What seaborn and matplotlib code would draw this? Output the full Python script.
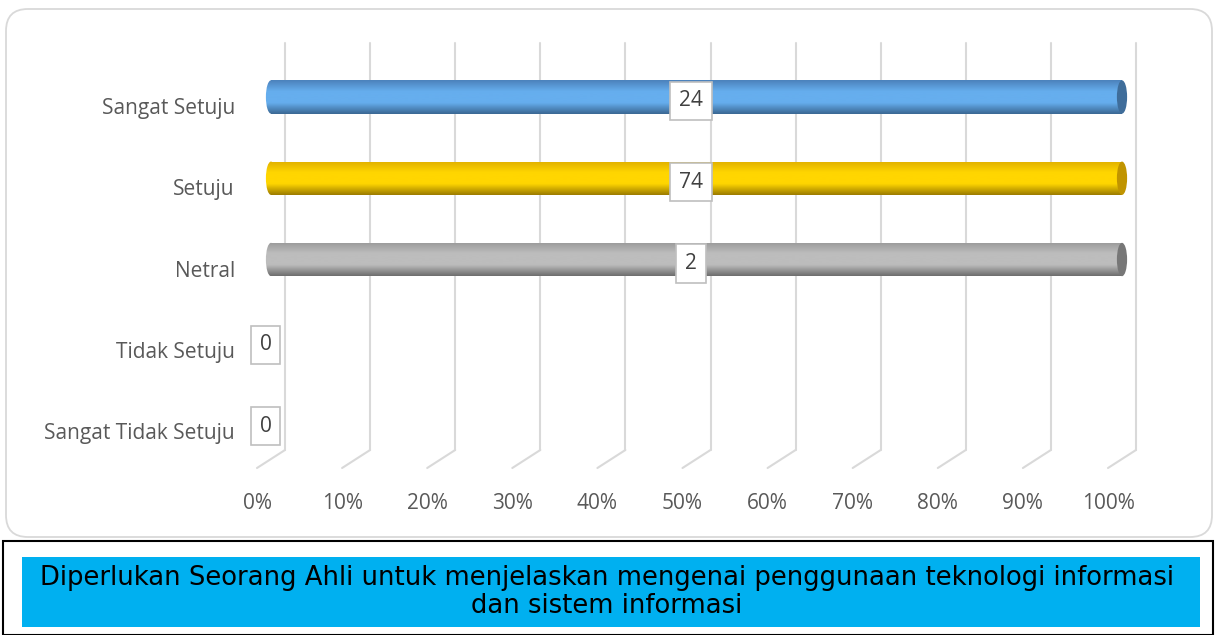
import numpy as np
import seaborn as sns
import matplotlib.pyplot as plt
import matplotlib.transforms as mtransforms
from matplotlib.patches import Ellipse, FancyBboxPatch, Rectangle
from matplotlib.colors import LinearSegmentedColormap

# data (100% stacked, one series per category)
categories = ['Sangat Setuju', 'Setuju', 'Netral', 'Tidak Setuju', 'Sangat Tidak Setuju']
counts = [24, 74, 2, 0, 0]
shares = [100 if c > 0 else 0 for c in counts]
tick_values = list(range(0, 101, 10))
tick_labels = [f'{t}%' for t in tick_values]
caption = ('Diperlukan Seorang Ahli untuk menjelaskan mengenai penggunaan teknologi informasi\n'
           'dan sistem informasi')

# (top edge, middle, bottom edge, end cap) shades for the cylinders
shades = {
    'Sangat Setuju': ('#4C82BC', '#66AEEE', '#3B6894', '#3F6D9A'),
    'Setuju': ('#E0B000', '#FFD600', '#9C7C00', '#C09400'),
    'Netral': ('#9A9A9A', '#BDBDBD', '#6E6E6E', '#777777'),
    'Tidak Setuju': ('#9A9A9A', '#BDBDBD', '#6E6E6E', '#777777'),
    'Sangat Tidak Setuju': ('#9A9A9A', '#BDBDBD', '#6E6E6E', '#777777'),
}

sns.set_style('white')
plt.rcParams['font.family'] = ['Open Sans', 'DejaVu Sans']

fig = plt.figure(figsize=(12.16, 6.35), dpi=100)
W, H = 1216, 635

# outer rounded chart frame
frame = FancyBboxPatch((6 / W, 98 / H), 1206 / W, 528 / H,
                       boxstyle='round,pad=0,rounding_size=0.018',
                       transform=fig.transFigure, fc='white', ec='#D9D9D9', lw=1.3,
                       mutation_aspect=W / H, zorder=-5)
fig.patches.append(frame)

ax = fig.add_axes([257 / W, (H - 468) / H, (1108 - 257) / W, (468 - 43) / H])
ax.set_facecolor('none')
ax.set_zorder(2)

sns.barplot(x=shares, y=categories, hue=categories, palette=[shades[c][1] for c in categories],
            orient='h', width=0.41, legend=False, ax=ax, saturation=1)

ax.set_xlim(0, 100)
ax.set_ylim(4.455, -0.775)
fig.canvas.draw()

# 3D offsets: back wall, bar depth, label position
back = ax.transData + mtransforms.ScaledTranslation(0.28, 0.18, fig.dpi_scale_trans)
mid = ax.transData + mtransforms.ScaledTranslation(0.14, 0.09, fig.dpi_scale_trans)
lab = ax.transData + mtransforms.ScaledTranslation(0.085, 0.05, fig.dpi_scale_trans)

for t in tick_values:
    ax.plot([t, t], [4.455, -0.775 + 18 / 81.25], transform=back, color='#D9D9D9',
            lw=1.5, clip_on=False, zorder=0)
    x_back, y_back = back.transform((t, 4.455))
    x_front, y_front = ax.transData.transform((t, 4.455))
    ax.plot([x_back, x_front], [y_back, y_front], transform=None, color='#D9D9D9',
            lw=1.5, clip_on=False, zorder=0)

cap_w = 1.2
grad = np.linspace(0, 1, 64).reshape(-1, 1)
for cat, patch, val in zip(categories, ax.patches, counts):
    top, middle, bottom, cap = shades[cat]
    x0, y0 = patch.get_x(), patch.get_y()
    w, h = patch.get_width(), patch.get_height()
    yc = y0 + h / 2
    patch.set_transform(mid)
    patch.set_edgecolor('none')
    patch.set_zorder(2)
    patch.set_clip_on(False)
    if w > 0:
        cmap = LinearSegmentedColormap.from_list('cyl', [top, middle, middle, bottom])
        left_cap = Ellipse((x0, yc), cap_w, h, transform=mid, fc='none', ec='none', zorder=2)
        ax.add_patch(left_cap)
        for clip in (patch, left_cap):
            im = ax.imshow(grad, cmap=cmap, aspect='auto',
                           extent=(x0 - cap_w, x0 + w, y0 + h, y0),
                           transform=mid, zorder=3, interpolation='bicubic')
            im.set_clip_path(clip)
        end_cap = Ellipse((x0 + w, yc), cap_w, h, transform=mid, fc=cap, ec='none',
                          zorder=4, clip_on=False)
        ax.add_patch(end_cap)
    ax.text(w / 2, yc, str(val), transform=lab, ha='center', va='center', fontsize=15,
            color='#404040', zorder=6, clip_on=False,
            bbox=dict(boxstyle='square,pad=0.42', fc='white', ec='#BFBFBF', lw=1.2))

ax.set_xlim(0, 100)
ax.set_ylim(4.455, -0.775)
ax.set_xticks(tick_values)
ax.set_xticklabels(tick_labels)
ax.tick_params(axis='x', length=0, pad=18, labelsize=15, labelcolor='#595959')
ax.tick_params(axis='y', length=0, pad=16, labelsize=15, labelcolor='#595959')
ax.set_xlabel('')
ax.set_ylabel('')
sns.despine(ax=ax, left=True, bottom=True)

# caption box under the chart
fig.patches.append(Rectangle((3 / W, 0), 1210 / W, (H - 541) / H, transform=fig.transFigure,
                             fc='white', ec='black', lw=1.5, zorder=-5))
fig.patches.append(Rectangle((22 / W, 8 / H), 1178 / W, 70 / H, transform=fig.transFigure,
                             fc='#00B0F0', ec='none', zorder=-4))
fig.text(607 / W, 43 / H, caption, ha='center', va='center', fontsize=18.6,
         color='black', linespacing=1.1, family=['DejaVu Sans'])

fig.savefig('out.png', dpi=100)
